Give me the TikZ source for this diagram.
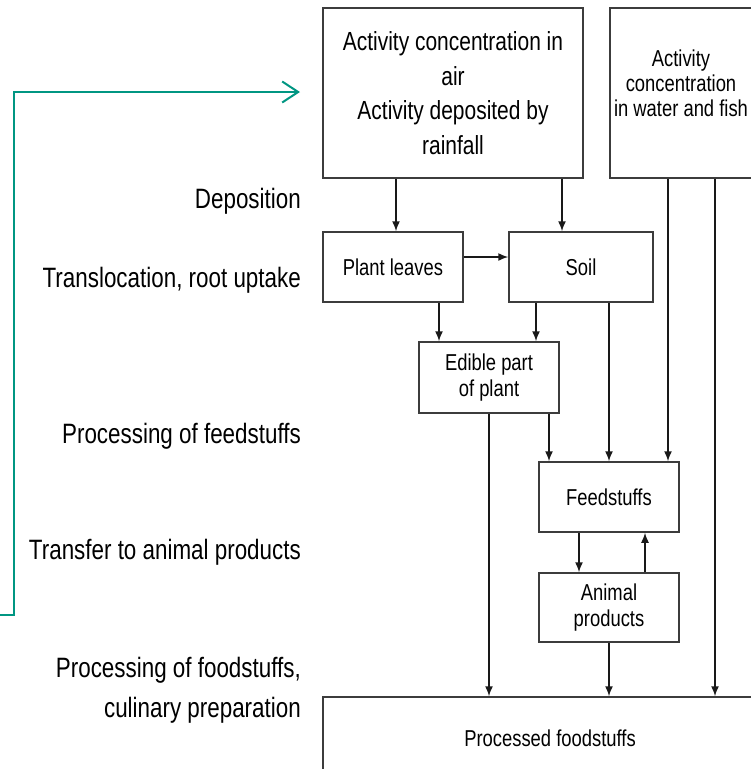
\documentclass[tikz,border=0pt]{standalone}
\usepackage{fontspec}
\setmainfont{Liberation Sans}[FakeStretch=0.8]
\usetikzlibrary{arrows.meta}
\definecolor{tealline}{RGB}{0,150,130}
\definecolor{boxgray}{RGB}{60,60,60}
\begin{document}
\begin{tikzpicture}[x=1pt,y=-1pt,
  box/.style={draw=boxgray, line width=1.5pt, inner sep=0pt, align=center,
              font=\fontsize{23}{26}\selectfont},
  btext/.style={font=\fontsize{23}{25}\selectfont, align=center, inner sep=0pt},
  lbl/.style={font=\fontsize{28}{40}\selectfont, anchor=east, inner sep=0pt, align=right},
  arr/.style={-{Latex[length=10pt,width=8pt]}, line width=1.5pt, black!90},
  feedback/.style={draw=tealline, line width=2pt,
                   -{Straight Barb[length=16pt,width=21pt,line width=2pt]}}]
\useasboundingbox (0,0) rectangle (751,769);
\clip (0,0) rectangle (751,769);

% boxes
\node[box, minimum width=260pt, minimum height=170pt,
      font=\fontsize{26.2}{34.5}\selectfont] (air) at (453,93)
  {Activity concentration in\\air\\Activity deposited by\\rainfall};
\node[box, minimum width=150pt, minimum height=170pt] (water) at (685,93) {};
\node[btext] (wtext) at (681,83) {Activity\\concentration\\in water and fish};
\node[box, minimum width=140pt, minimum height=70pt] (leaves) at (393,267) {Plant leaves};
\node[box, minimum width=144pt, minimum height=70pt] (soil) at (581,267) {Soil};
\node[box, minimum width=140pt, minimum height=71pt] (edible) at (489,377.5) {Edible part\\of plant};
\node[box, minimum width=140pt, minimum height=70pt] (feed) at (609,497) {Feedstuffs};
\node[box, minimum width=140pt, minimum height=69pt] (animal) at (609,607.5) {Animal\\products};
\node[box, minimum width=437pt, minimum height=93pt] (proc) at (541.5,743.5) {};
\node[btext] (ptext) at (550,738) {Processed foodstuffs};

% left labels
\node[lbl] (l1) at (301,201) {Deposition};
\node[lbl] (l2) at (301,280) {Translocation, root uptake};
\node[lbl] (l3) at (301,436) {Processing of feedstuffs};
\node[lbl] (l4) at (301,552) {Transfer to animal products};
\node[lbl] (l5) at (301,690) {Processing of foodstuffs,\\culinary preparation};

% helper coordinates
\coordinate (c396) at (396,0);
\coordinate (c562) at (562,0);
\coordinate (c257) at (0,257);
\coordinate (c439) at (439,0);
\coordinate (c536) at (536,0);
\coordinate (c609) at (609,0);
\coordinate (c549) at (549,0);
\coordinate (c668) at (668,0);
\coordinate (c715) at (715,0);
\coordinate (c489) at (489,0);
\coordinate (c579) at (579,0);
\coordinate (c645) at (645,0);

% arrows
\draw[arr] (air.south -| c396) -- (leaves.north -| c396);
\draw[arr] (air.south -| c562) -- (soil.north -| c562);
\draw[arr] (leaves.east |- c257) -- (soil.west |- c257);
\draw[arr] (leaves.south -| c439) -- (edible.north -| c439);
\draw[arr] (soil.south -| c536) -- (edible.north -| c536);
\draw[arr] (soil.south -| c609) -- (feed.north -| c609);
\draw[arr] (edible.south -| c549) -- (feed.north -| c549);
\draw[arr] (water.south -| c668) -- (feed.north -| c668);
\draw[arr] (water.south -| c715) -- (proc.north -| c715);
\draw[arr] (edible.south -| c489) -- (proc.north -| c489);
\draw[arr] (feed.south -| c579) -- (animal.north -| c579);
\draw[arr] (animal.north -| c645) -- (feed.south -| c645);
\draw[arr] (animal.south -| c609) -- (proc.north -| c609);

% feedback connector
\coordinate (gstart) at (0,615);
\coordinate (gend) at (300,92);
\draw[feedback] (gstart) -- (14,615) -- (14,92) -- (gend);
\end{tikzpicture}
\end{document}
